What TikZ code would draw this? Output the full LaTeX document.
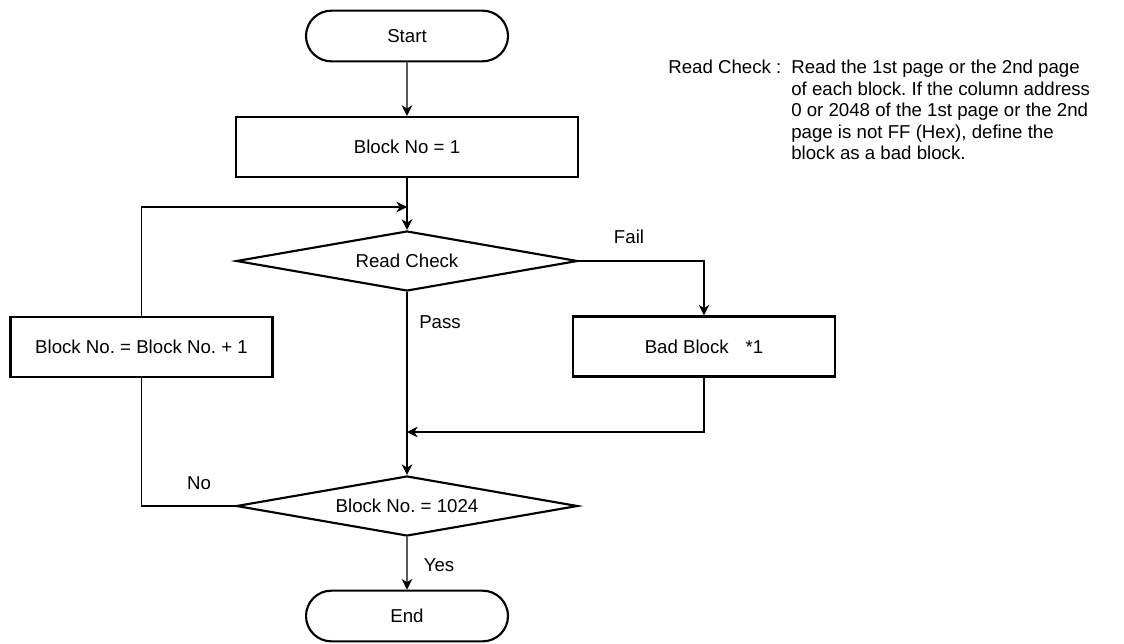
\documentclass[tikz,border=0pt]{standalone}
\usepackage{fontspec}
\setmainfont{Liberation Sans}
\frenchspacing
\usetikzlibrary{arrows.meta,shapes,positioning,calc}

\begin{document}
\begin{tikzpicture}[x=0.75pt, y=-0.75pt,
    font=\fontsize{14}{16.1}\selectfont,
    >={Stealth[length=8pt,width=8pt,inset=2.5pt]},
    line/.style={line width=0.8pt},
    terminal/.style={rounded rectangle, draw, line width=1.6pt, minimum width=151.5pt, minimum height=38pt, inner sep=0pt},
    process/.style={rectangle, draw, line width=1.6pt, minimum height=45pt, inner sep=0pt},
    decision/.style={diamond, draw, line width=1.6pt, aspect=5.7, minimum width=256pt, minimum height=45pt, inner sep=0pt}]
    \useasboundingbox (0,0) rectangle (1124,643);

    % main column
    \node[terminal] (start) at (407,36) {Start};
    \node[process, minimum width=256.5pt] (blk1) at (407,147) {Block No = 1};
    \node[decision] (chk) at (407,261) {Read Check};
    \node[decision] (cnt) at (407,506) {Block No. = 1024};
    \node[terminal] (end) at (407,616) {End};

    % side boxes
    \node[process, minimum width=196.5pt] (bad) at (704,346.5) {Bad Block\hspace{0.9em}*1};
    \node[process, minimum width=196.5pt] (inc) at (141.5,347) {Block No. = Block No. + 1};

    % note
    \node[anchor=north west, inner sep=0pt] (rclabel) at (668,60) {Read Check :};
    \node[anchor=north west, inner sep=0pt, align=left] (rcnote) at (791,60) {Read the 1st page or the 2nd page\\of each block. If the column address\\0 or 2048 of the 1st page or the 2nd\\page is not FF (Hex), define the\\block as a bad block.};

    % connectors
    \coordinate (loopin) at (407,207);
    \coordinate (merge) at (407,432);
    \draw[line,->] (start) -- (blk1);
    \draw[line,->] (blk1) -- (chk);
    \draw[line,->] (inc.north) |- (loopin);
    \draw[line,->] (chk.east) -| (bad.north);
    \draw[line,->] (bad.south) |- (merge);
    \draw[line,->] (chk) -- (cnt);
    \draw[line] (cnt.west) -| (inc.south);
    \draw[line,->] (cnt) -- (end);

    % branch labels
    \node (fail) at (629,237) {Fail};
    \node (pass) at (440,322) {Pass};
    \node (no) at (199,483) {No};
    \node (yes) at (439,565) {Yes};
\end{tikzpicture}
\end{document}
